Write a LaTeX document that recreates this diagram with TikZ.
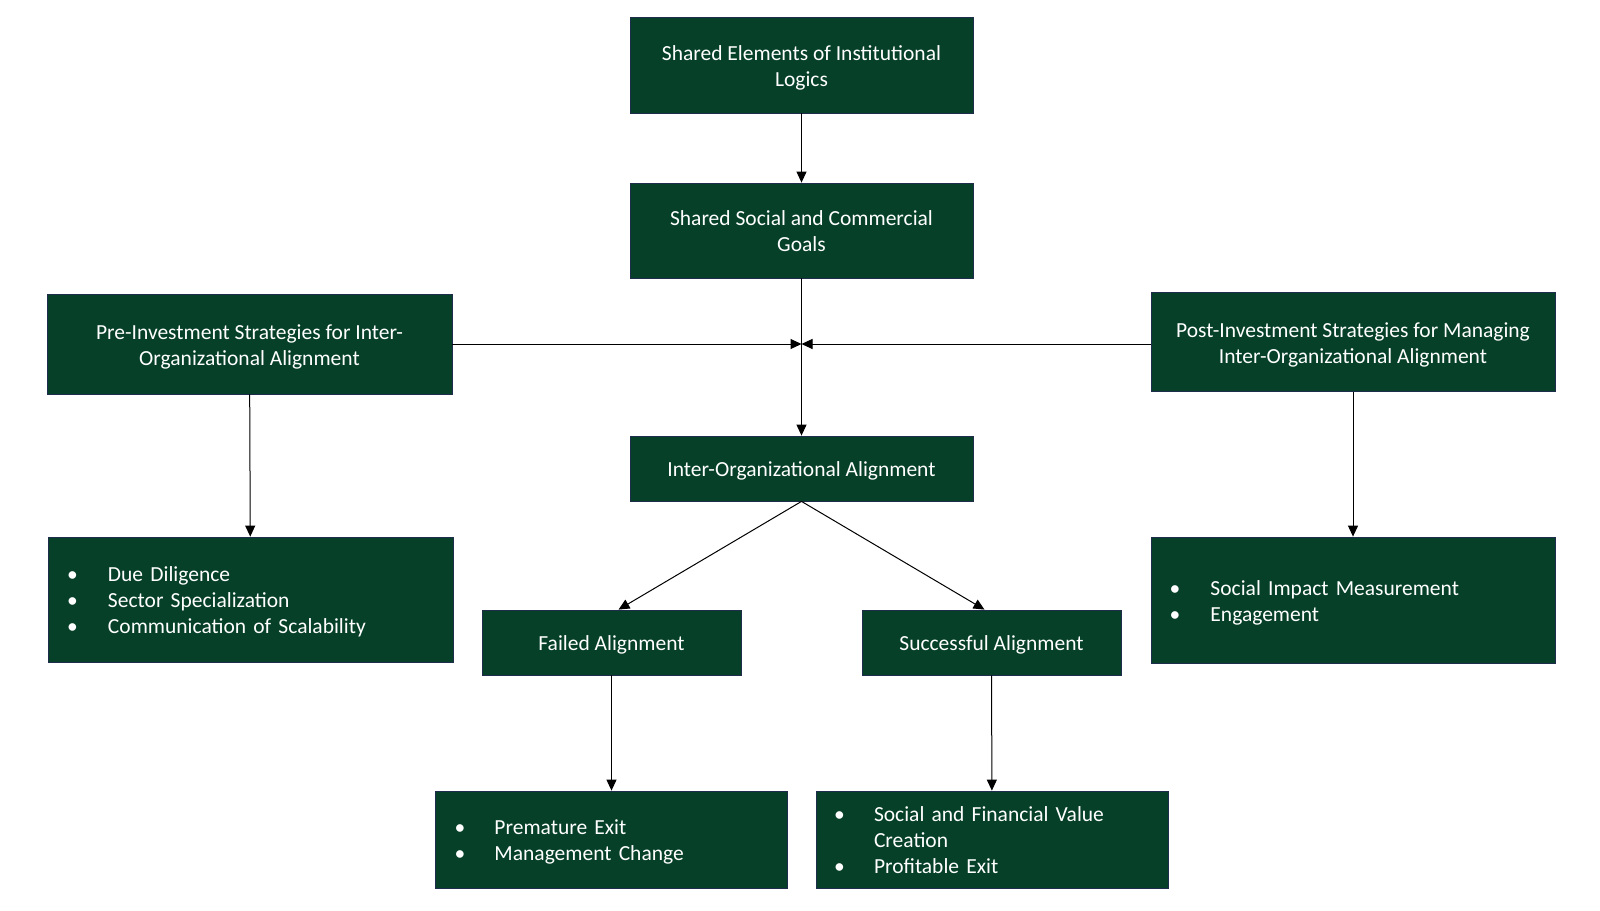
\documentclass[tikz,border=0pt]{standalone}
\usepackage{fontspec}
\setmainfont{Carlito}
\usetikzlibrary{arrows.meta}
\definecolor{boxgreen}{RGB}{6,64,40}
\definecolor{boxedge}{RGB}{30,45,75}
\newcommand\lowtext[1]{\raisebox{-1.5pt}[\dimexpr\height+1.5pt\relax][\dimexpr\depth-1.5pt\relax]{#1}}
\newcommand\ctext[1]{\lowtext{\begin{tabular}{@{}c@{}}#1\end{tabular}}}
\newcommand\btext[2]{\lowtext{\begin{tabular}{@{}p{#1}@{}l@{}}#2\end{tabular}}}
\begin{document}
\begin{tikzpicture}[x=1pt,y=-1pt,
  box/.style={rectangle, fill=boxgreen, draw=boxedge, line width=0.8pt, text=white,
    font=\fontsize{21.5}{25.8}\selectfont, align=center, inner sep=0pt},
  listbox/.style={box, align=left, inner ysep=0pt},
  arr/.style={-{Triangle[length=11pt,width=10pt]}, line width=1pt}]
\fill[white] (0,0) rectangle (1600,910);
\useasboundingbox (0,0) rectangle (1600,910);

\node[box, minimum width=343pt, minimum height=96pt] (top) at (801.5,65)
  {\ctext{Shared Elements of Institutional\\Logics}};
\node[box, minimum width=343pt, minimum height=95pt] (goals) at (801.5,230.5)
  {\ctext{Shared Social and Commercial\\Goals}};
\node[box, minimum width=405pt, minimum height=100pt] (pre) at (249.5,344)
  {\ctext{Pre-Investment Strategies for Inter-\\Organizational Alignment}};
\node[box, minimum width=404pt, minimum height=99pt] (post) at (1353,342)
  {\ctext{Post-Investment Strategies for Managing\\Inter-Organizational Alignment}};
\node[box, minimum width=343pt, minimum height=65pt] (inter) at (801.5,468.5)
  {\ctext{Inter-Organizational Alignment}};
\node[box, minimum width=259pt, minimum height=65pt] (failed) at (611.5,642.5)
  {\ctext{Failed Alignment}};
\node[box, minimum width=259pt, minimum height=65pt] (success) at (991.5,642.5)
  {\ctext{Successful Alignment}};

\node[listbox, text width=367pt, inner xsep=19pt, minimum height=125pt] (prelist) at (250.5,599.5)
  {\btext{41pt}{\textbullet & Due Diligence\\ \textbullet & Sector Specialization\\ \textbullet & Communication of Scalability}};
\node[listbox, text width=367pt, inner xsep=18.5pt, minimum height=126pt] (postlist) at (1353,600)
  {\btext{41pt}{\textbullet & Social Impact Measurement\\ \textbullet & Engagement}};
\node[listbox, text width=314pt, inner xsep=19pt, minimum height=97pt] (failedlist) at (611.5,839.5)
  {\btext{40pt}{\textbullet & Premature Exit\\ \textbullet & Management Change}};
\node[listbox, text width=316pt, inner xsep=18pt, minimum height=97pt] (successlist) at (992,839.5)
  {\btext{40pt}{\textbullet & Social and Financial Value\\ & Creation\\ \textbullet & Profitable Exit}};

\coordinate (j) at (801.5,344);

\draw[arr] (top) -- (goals);
\draw[arr] (goals) -- (inter);
\draw[arr] (pre.east) -- (j);
\draw[arr] (post.west |- j) -- (j);
\draw[arr] (pre) -- (prelist);
\draw[arr] (post) -- (postlist);
\draw[arr] (inter.south) -- ([xshift=7pt]failed.north);
\draw[arr] (inter.south) -- ([xshift=-7pt]success.north);
\draw[arr] (failed) -- (failedlist);
\draw[arr] (success) -- (successlist);
\end{tikzpicture}
\end{document}
